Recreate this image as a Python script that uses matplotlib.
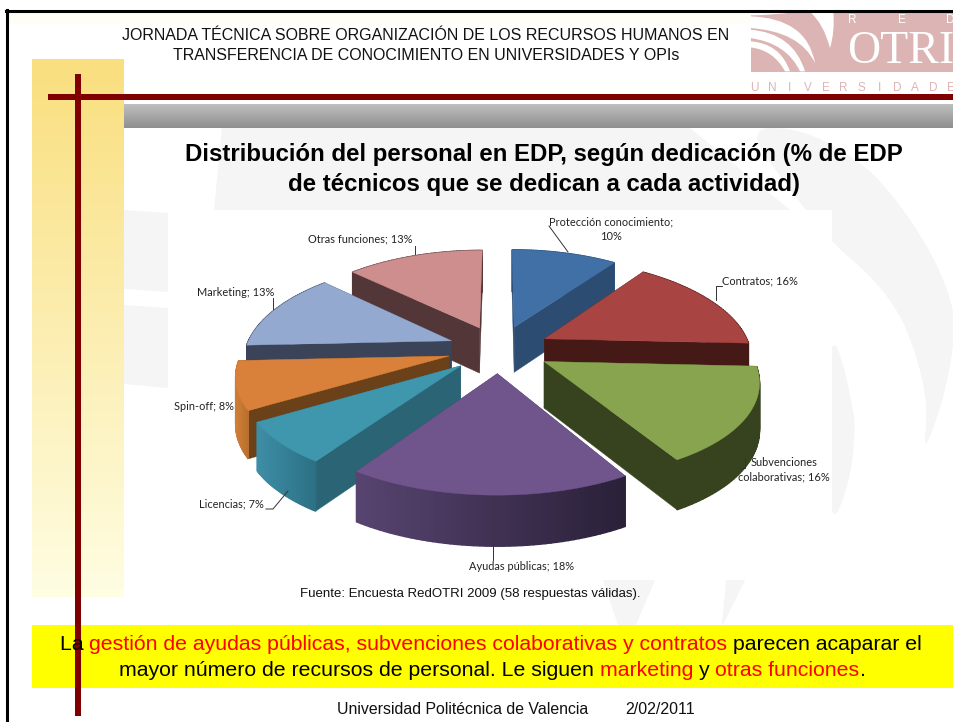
import matplotlib
matplotlib.use("Agg")
import matplotlib.pyplot as plt
import numpy as np
from matplotlib.colors import to_rgb
from matplotlib.patches import PathPatch, Polygon, Rectangle
from matplotlib.path import Path

categories = ["Protección conocimiento", "Contratos", "Subvenciones colaborativas", "Ayudas públicas",
              "Licencias", "Spin-off", "Marketing", "Otras funciones"]
values = [10, 16, 16, 18, 7, 8, 13, 13]

top_colors = ["#4170a6", "#a84442", "#88a44e", "#6f558c", "#3f97ae", "#d9813a", "#93a9d0", "#ce8e8e"]
wall_colors = ["#2c4c72", "#451a16", "#37431e", "#4a3660", "#2a6475", "#6a4119", "#3a4358", "#523638"]
outer_left = ["#2c4c72", "#451a16", "#37431e", "#574470", "#3d8ea6", "#d07e38", "#3a4358", "#523638"]
outer_right = ["#2c4c72", "#451a16", "#37431e", "#2a2038", "#2c7084", "#b86f2e", "#3a4358", "#523638"]

# pie projection, all in pixels
CX, CY = 499, 349
SCALE_X, SCALE_Y = 206, 95
PERSP_X, PERSP_Y = 0.17, 0.15
DEPTH = 46
DEPTH_PERSP = 0.08
EXPLODE = 0.25

# pale watermark shapes behind the slide
WATERMARK_STRAIGHT = [
    [(222, 128), (690, 128), (790, 210), (214, 210)],
    [(124, 210), (168, 213), (168, 292), (124, 289)],
    [(124, 305), (168, 308), (168, 388), (124, 384)],
    [(603, 580), (655, 580), (636, 625), (618, 625)],
    [(726, 580), (745, 580), (723, 625), (722, 625)],
]
WATERMARK_CURVED = [
    [(745, 128), (800, 128), (860, 160), (897, 200), (930, 250), (950, 295), (956, 330), (945, 395),
     (923, 457), (928, 407), (918, 360), (900, 313), (870, 275), (832, 243), (790, 190)],
    [(832, 332), (845, 370), (853, 410), (855, 423), (853, 460), (845, 495), (832, 525), (810, 430)],
]

# white crescents of the logo, start, ctrl, end, ctrl back, end back (3x crop coordinates)
LOGO_ARCS = [
    [(0, 100), (90, 105), (120, 190), (105, 190), (70, 125), (0, 118)],
    [(0, 65), (130, 75), (165, 190), (150, 190), (110, 105), (0, 90)],
    [(0, 25), (170, 30), (195, 165), (195, 165), (150, 70), (0, 60)],
    [(250, 12), (255, 70), (240, 120), (240, 120), (220, 45), (180, 12)],
    [(0, 12), (135, 12), (135, 12), (135, 12), (70, 22), (0, 22)],
]


def project(x, y):
    return CX + SCALE_X * x / (1 + PERSP_X * y), CY - SCALE_Y * y / (1 + PERSP_Y * y)


def drop(y):
    return DEPTH / (1 + DEPTH_PERSP * y)


def gradient(ax, extent, colors):
    c0, c1 = np.array(to_rgb(colors[0])), np.array(to_rgb(colors[1]))
    t = np.linspace(0, 1, 64)[:, None]
    img = (c0 + (c1 - c0) * t)[:, None, :]
    ax.imshow(img, extent=extent, aspect="auto", zorder=1)


def smooth(points, rounds=3):
    # corner cutting so the watermark bands read as curves
    pts = np.array(points, dtype=float)
    for _ in range(rounds):
        nxt = np.roll(pts, -1, axis=0)
        pts = np.column_stack([0.75 * pts + 0.25 * nxt, 0.25 * pts + 0.75 * nxt]).reshape(-1, 2)
    return pts


def draw_slice(ax, i, a0, a1, z):
    mid = np.radians((a0 + a1) / 2)
    ox, oy = EXPLODE * np.cos(mid), EXPLODE * np.sin(mid)
    th = np.radians(np.linspace(a0, a1, 50))
    xs, ys = ox + np.cos(th), oy + np.sin(th)
    px, py = project(xs, ys)
    ax0, ay0 = project(ox, oy)

    # radial walls first, the top face covers the parts facing away
    for k in (0, -1):
        wall = [(ax0, ay0), (px[k], py[k]), (px[k], py[k] + drop(ys[k])), (ax0, ay0 + drop(oy))]
        ax.add_patch(Polygon(wall, fc=wall_colors[i], ec=wall_colors[i], lw=0.3, zorder=z))

    # outer wall in small strips so it can shade from left to right
    c0, c1 = np.array(to_rgb(outer_left[i])), np.array(to_rgb(outer_right[i]))
    left, right = px.min(), px.max()
    for k in range(len(th) - 1):
        t = ((px[k] + px[k + 1]) / 2 - left) / max(right - left, 1)
        quad = [(px[k], py[k]), (px[k + 1], py[k + 1]),
                (px[k + 1], py[k + 1] + drop(ys[k + 1])), (px[k], py[k] + drop(ys[k]))]
        col = c0 + (c1 - c0) * t
        ax.add_patch(Polygon(quad, fc=col, ec=col, lw=1.0, zorder=z))

    top = [(ax0, ay0)] + list(zip(px, py))
    ax.add_patch(Polygon(top, fc=top_colors[i], ec=top_colors[i], lw=0.3, zorder=z + 0.5))


fig = plt.figure(figsize=(9.54, 7.22), dpi=100)
ax = fig.add_axes([0, 0, 1, 1])
ax.axis("off")

# slide frame and background
ax.add_patch(Rectangle((8, 12), 943, 12, fc="#fffef6", ec="none", zorder=0))
ax.plot([7, 7], [722, 10], color="black", lw=2.2, zorder=6)
ax.plot([6, 954], [10.5, 10.5], color="black", lw=2.2, zorder=6)

for shape in WATERMARK_STRAIGHT:
    ax.add_patch(Polygon(shape, fc="#f5f5f5", ec="none", zorder=0.5))
for shape in WATERMARK_CURVED:
    ax.add_patch(Polygon(smooth(shape), fc="#f5f5f5", ec="none", zorder=0.5))

gradient(ax, (32, 124, 597, 59), ("#f9df7f", "#fffde2"))
gradient(ax, (124, 954, 128, 104), ("#bfbfbf", "#8f8f8f"))

# logo
ax.add_patch(Rectangle((751, 12), 203, 60, fc="#dcb4b4", ec="none", zorder=1))
curve = [Path.MOVETO, Path.CURVE3, Path.CURVE3, Path.LINETO, Path.CURVE3, Path.CURVE3, Path.CLOSEPOLY]
for arc in LOGO_ARCS:
    pts = [(750 + x / 3, 8 + y / 3) for x, y in arc]
    ax.add_patch(PathPatch(Path(pts + [pts[0]], curve), fc="white", ec="none", zorder=1.5))
ax.text(847, 63, "OTRI", family="Liberation Serif", fontsize=33, color="white", ha="left", va="baseline", zorder=2)
for x, ch in zip((852, 902, 950), "RED"):
    ax.text(x, 20, ch, family="Liberation Sans", fontsize=8.5, color="white", ha="center", va="center", zorder=2)
for k, ch in enumerate("UNIVERSIDADE"):
    ax.text(754 + k * 17.9, 88, ch, family="Liberation Sans", fontsize=8.5, color="#dcb4b4",
            ha="center", va="center", zorder=2)

# red cross
ax.add_patch(Rectangle((75, 74), 6, 642, fc="#800000", ec="none", zorder=3))
ax.add_patch(Rectangle((48, 94), 906, 6, fc="#800000", ec="none", zorder=3))

# chart picture background
ax.add_patch(Rectangle((168, 210), 664, 370, fc="white", ec="none", zorder=1))

# pie, drawn back to front
fracs = np.array(values) / sum(values)
ends = 90 - 360 * np.cumsum(fracs)
starts = np.r_[90, ends[:-1]]
order = sorted(range(len(values)), key=lambda i: np.sin(np.radians((starts[i] + ends[i]) / 2)), reverse=True)
for n, i in enumerate(order):
    draw_slice(ax, i, starts[i], ends[i], 4 + n)

# labels and leader lines
label_font = dict(family="Lato", fontsize=7.9, color="#222222", zorder=20)
ax.text(611, 229, f"{categories[0]};\n{values[0]}%", ha="center", va="center", linespacing=1.35, **label_font)
ax.text(760, 281, f"{categories[1]}; {values[1]}%", ha="center", va="center", **label_font)
ax.text(784, 470, f"Subvenciones\ncolaborativas; {values[2]}%", ha="center", va="center", linespacing=1.35, **label_font)
ax.text(522, 566, f"{categories[3]}; {values[3]}%", ha="center", va="center", **label_font)
ax.text(231, 504, f"{categories[4]}; {values[4]}%", ha="center", va="center", **label_font)
ax.text(204, 406, f"{categories[5]}; {values[5]}%", ha="center", va="center", **label_font)
ax.text(236, 292, f"{categories[6]}; {values[6]}%", ha="center", va="center", **label_font)
ax.text(360, 239, f"{categories[7]}; {values[7]}%", ha="center", va="center", **label_font)

line_kw = dict(color="#333333", lw=0.7, zorder=21)
ax.plot([549, 568], [226, 252], **line_kw)
ax.plot([716, 716, 722], [300, 286, 286], **line_kw)
ax.plot([745, 745, 741], [459, 468, 468], **line_kw)
ax.plot([493, 493], [544, 560], **line_kw)
ax.plot([266, 273, 288], [509, 509, 491], **line_kw)
ax.plot([273, 273], [298, 309], **line_kw)
ax.plot([415, 415], [246, 254], **line_kw)

# slide text
head = dict(family="Liberation Sans", fontsize=11.55, color="#111111", ha="center", va="center", zorder=8)
ax.text(426, 36, "JORNADA TÉCNICA SOBRE ORGANIZACIÓN DE LOS RECURSOS HUMANOS EN", **head)
ax.text(426, 55, "TRANSFERENCIA DE CONOCIMIENTO EN UNIVERSIDADES Y OPIs", **head)

title = dict(family="Liberation Sans", fontweight="bold", fontsize=17.3, color="black", ha="center", va="center", zorder=8)
ax.text(544, 155, "Distribución del personal en EDP, según dedicación (% de EDP", **title)
ax.text(544, 185, "de técnicos que se dedican a cada actividad)", **title)

ax.text(470, 594, "Fuente: Encuesta RedOTRI 2009 (58 respuestas válidas).", family="Liberation Sans",
        fontsize=9.5, color="#111111", ha="center", va="center", zorder=8)

# yellow conclusion banner, black and red runs placed one after the other
ax.add_patch(Rectangle((32, 625), 922, 63, fc="#ffff00", ec="none", zorder=2))
ax.set_xlim(0, 954)
ax.set_ylim(722, 0)
fig.canvas.draw()
renderer = fig.canvas.get_renderer()


def runs(parts, x, y):
    for txt, col in parts:
        t = ax.text(x, y, txt, family="Liberation Sans", fontsize=15.35, color=col, ha="left", va="center", zorder=8)
        x += t.get_window_extent(renderer).width


runs([("La ", "black"), ("gestión de ayudas públicas, subvenciones colaborativas y contratos ", "red"),
      ("parecen acaparar el", "black")], 60, 645)
runs([("mayor número de recursos de personal. Le siguen ", "black"), ("marketing ", "red"), ("y ", "black"),
      ("otras funciones", "red"), (".", "black")], 119, 670)

ax.text(463, 709, "Universidad Politécnica de Valencia", family="Liberation Sans", fontsize=11.4,
        color="#111111", ha="center", va="center", zorder=8)
ax.text(660, 709, "2/02/2011", family="Liberation Sans", fontsize=11.5, color="#111111", ha="center", va="center", zorder=8)

ax.set_xlim(0, 954)
ax.set_ylim(722, 0)
fig.savefig("out.png", dpi=100)
